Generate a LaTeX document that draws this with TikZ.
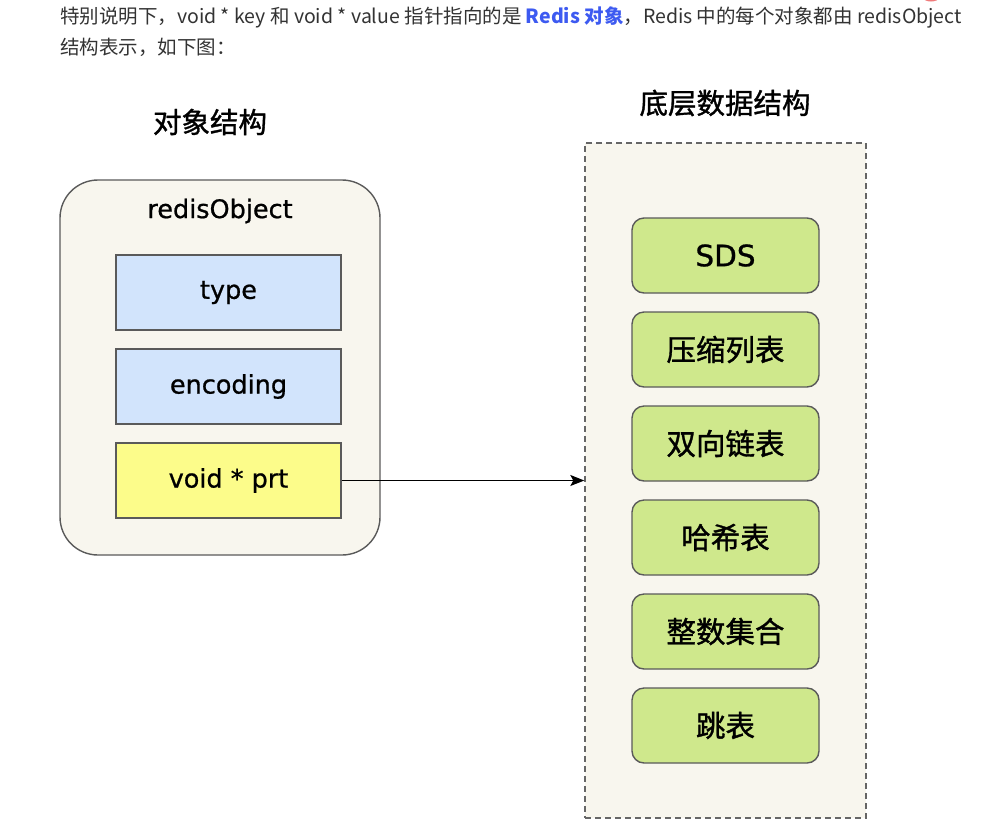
\documentclass[tikz,border=0pt]{standalone}
\usepackage{fontspec}
\setmainfont{Noto Sans CJK SC}
\newfontfamily\cjk{Noto Sans CJK SC}
\newfontfamily\cjkb[FakeBold=1.2]{Noto Sans CJK SC}
\newfontfamily\lat[FakeBold=0.8]{DejaVu Sans}
\usetikzlibrary{arrows.meta}
\definecolor{txtgray}{HTML}{333333}
\definecolor{linkblue}{HTML}{3D5AF1}
\definecolor{panelbg}{HTML}{F8F6EE}
\definecolor{boxline}{HTML}{5A5A5A}
\definecolor{bluefill}{HTML}{D2E4FC}
\definecolor{yellowfill}{HTML}{FCFC8A}
\definecolor{greenfill}{HTML}{CFE88C}
\definecolor{dashgray}{HTML}{666666}
\definecolor{badge}{HTML}{F07A7A}
\tikzset{
  field/.style={draw=boxline, line width=1.4pt, minimum width=225pt, minimum height=75pt, inner sep=0pt, font=\lat\fontsize{25.5}{30}\selectfont},
  greenbox/.style={draw=boxline, line width=1.4pt, fill=greenfill, rounded corners=12pt, minimum width=187pt, minimum height=75pt, inner sep=0pt, font=\cjkb\fontsize{29.5}{34}\selectfont},
  titletxt/.style={font=\cjkb\fontsize{28.5}{34}\selectfont, inner sep=0pt},
}
\begin{document}
\begin{tikzpicture}[x=1pt,y=-1pt]
\useasboundingbox (0,0) rectangle (995,839);
\fill[white] (0,0) rectangle (995,839);
% cut-off badge at top right
\fill[badge] (931,-12) ellipse [x radius=14, y radius=13.5];
% header text
\node[anchor=base west, inner sep=0pt, text=txtgray, font=\cjk\fontsize{19.5}{22}\selectfont] (line1) at (60,23)
  {特别说明下，void * key 和 void * value 指针指向的是 \textcolor{linkblue}{\bfseries Redis 对象}，Redis 中的每个对象都由 redisObject};
\node[anchor=base west, inner sep=0pt, text=txtgray, font=\cjk\fontsize{19.5}{22}\selectfont] (line2) at (60,54)
  {结构表示，如下图：};
% titles
\node[titletxt] (t1) at (210,122) {对象结构};
\node[titletxt] (t2) at (725,103) {底层数据结构};
% left object
\node[draw=boxline, line width=1.4pt, fill=panelbg, rounded corners=38pt, minimum width=320pt, minimum height=375pt, inner sep=0pt] (obj) at (220,367.5) {};
\node[font=\lat\fontsize{25.5}{30}\selectfont, inner sep=0pt] (objname) at (220,211) {redisObject};
\node[field, fill=bluefill] (type) at (228.5,292.5) {type};
\node[field, fill=bluefill] (enc) at (228.5,386.5) {encoding};
\node[field, fill=yellowfill] (prt) at (228.5,480.5) {void * prt};
% right panel
\node[draw=dashgray, line width=1.4pt, dash pattern=on 6pt off 4pt, fill=panelbg, minimum width=281pt, minimum height=675pt, inner sep=0pt] (panel) at (725.5,480.5) {};
\node[greenbox] (sds) at (725.5,255.5) {\lat SDS};
\node[greenbox] (zip) at (725.5,349.5) {压缩列表};
\node[greenbox] (dll) at (725.5,443.5) {双向链表};
\node[greenbox] (hash) at (725.5,537.5) {哈希表};
\node[greenbox] (iset) at (725.5,631.5) {整数集合};
\node[greenbox] (skip) at (725.5,725.5) {跳表};
% arrow
\draw[line width=1.2pt, -{Stealth[length=14pt, width=11pt, inset=3pt]}] (prt.east) -- (panel.west |- prt.east);
\end{tikzpicture}
\end{document}
